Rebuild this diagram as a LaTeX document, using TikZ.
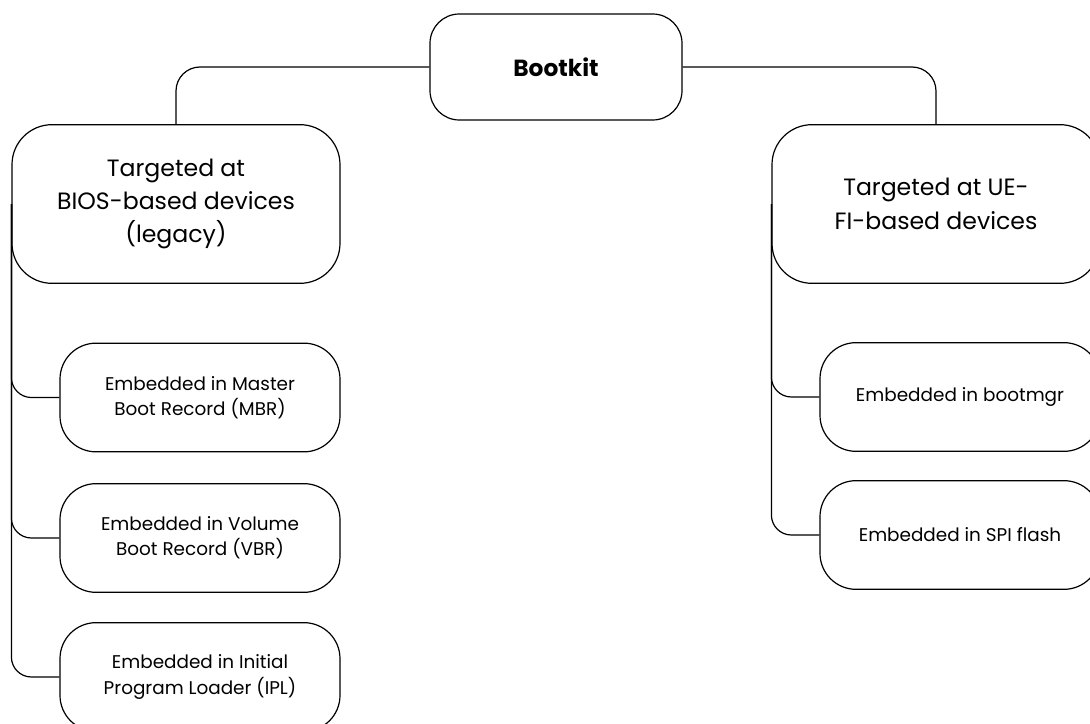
\documentclass[tikz,border=0pt]{standalone}
\usepackage{fontspec}
\setmainfont{Poppins}
\begin{document}
\tikzset{
        box/.style={draw, line width=0.9pt, rounded corners=30pt, align=center, inner sep=0pt},
        topbox/.style={box, minimum width=246pt, minimum height=119pt, font=\fontsize{17.7}{25}\selectfont},
        leafbox/.style={box, rounded corners=27pt, minimum width=210pt, minimum height=81.5pt, font=\fontsize{13.8}{19}\selectfont},
        link/.style={line width=0.9pt}
    }
\begin{tikzpicture}[x=0.75pt, y=-0.75pt]
        \clip (0,0) rectangle (1090,724);
        \node[box, rounded corners=22pt, minimum width=189pt, minimum height=79.5pt, font=\fontsize{17.5}{20}\selectfont\bfseries] (boot) at (556,67) {Bootkit};
        \node[topbox] (bios) at (176,204) {Targeted at\\BIOS-based devices\\(legacy)};
        \node[topbox] (uefi) at (936,204) {Targeted at UE-\\FI-based devices};
        \foreach \name/\y/\txt in {mbr/397.5/{Embedded in Master\\Boot Record (MBR)}, vbr/538/{Embedded in Volume\\Boot Record (VBR)}, ipl/677/{Embedded in Initial\\Program Loader (IPL)}} {
                \node[leafbox] (\name) at (200,\y) {\txt};
                \draw[link, rounded corners=15pt] (bios.west) |- (\name.west);
            }
        \foreach \name/\y/\txt in {bmgr/397/{Embedded in bootmgr}, spi/535/{Embedded in SPI flash}} {
                \node[leafbox] (\name) at (960,\y) {\txt};
                \draw[link, rounded corners=15pt] (uefi.west) |- (\name.west);
            }
        \draw[link, rounded corners=18pt] (boot.west) -| (bios.north);
        \draw[link, rounded corners=18pt] (boot.east) -| (uefi.north);
    \end{tikzpicture}
\end{document}
